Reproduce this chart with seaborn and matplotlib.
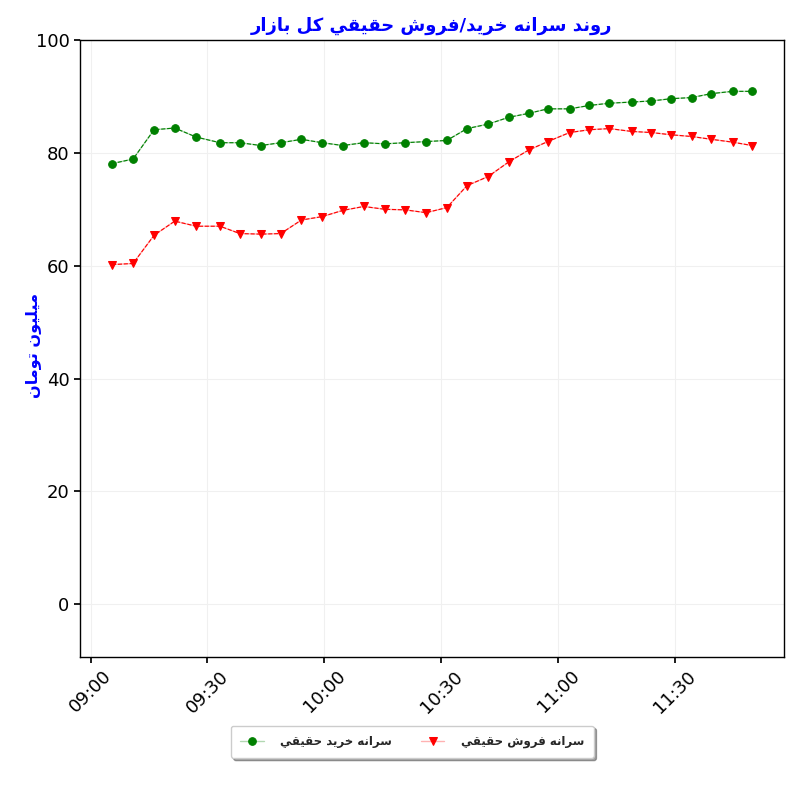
import numpy as np
import pandas as pd
import matplotlib
matplotlib.use("Agg")
import matplotlib.pyplot as plt
import matplotlib.dates as mdates
import seaborn as sns

# ---------------- data ----------------
times = ["09:05:30", "09:10:54", "09:16:18", "09:21:36", "09:27:06", "09:33:12",
         "09:38:18", "09:43:42", "09:48:48", "09:54:06", "09:59:24", "10:04:42",
         "10:10:06", "10:15:30", "10:20:42", "10:26:06", "10:31:24", "10:36:36",
         "10:42:00", "10:47:18", "10:52:24", "10:57:18", "11:02:54", "11:08:00",
         "11:13:06", "11:18:48", "11:23:54", "11:29:00", "11:34:12", "11:39:18",
         "11:44:42", "11:49:42"]
buy_per_capita = [78.1, 78.9, 84.1, 84.4, 82.8, 81.8, 81.8, 81.3, 81.8, 82.4,
                  81.8, 81.3, 81.8, 81.6, 81.8, 82.0, 82.2, 84.3, 85.1, 86.3,
                  87.0, 87.8, 87.8, 88.4, 88.8, 89.0, 89.2, 89.6, 89.8, 90.5,
                  90.9, 90.9]
sell_per_capita = [60.2, 60.4, 65.4, 67.9, 67.0, 67.0, 65.7, 65.6, 65.7, 68.1,
                   68.7, 69.8, 70.5, 70.0, 69.9, 69.4, 70.3, 74.2, 75.8, 78.4,
                   80.5, 82.0, 83.6, 84.1, 84.3, 83.8, 83.6, 83.2, 82.9, 82.4,
                   81.9, 81.3]
title_text = "روند سرانه خريد/فروش حقيقي کل بازار"
ylabel_text = "ميليون تومان"
label_buy = "سرانه خريد حقيقي"
label_sell = "سرانه فروش حقيقي"

# ------------- minimal Arabic shaping (presentation forms, visual order) -------------
FORMS = {  # isolated, final, initial, medial
    "ا": ("\uFE8D", "\uFE8E", None, None),
    "ب": ("\uFE8F", "\uFE90", "\uFE91", "\uFE92"),
    "ت": ("\uFE95", "\uFE96", "\uFE97", "\uFE98"),
    "ح": ("\uFEA1", "\uFEA2", "\uFEA3", "\uFEA4"),
    "خ": ("\uFEA5", "\uFEA6", "\uFEA7", "\uFEA8"),
    "د": ("\uFEA9", "\uFEAA", None, None),
    "ر": ("\uFEAD", "\uFEAE", None, None),
    "ز": ("\uFEAF", "\uFEB0", None, None),
    "س": ("\uFEB1", "\uFEB2", "\uFEB3", "\uFEB4"),
    "ش": ("\uFEB5", "\uFEB6", "\uFEB7", "\uFEB8"),
    "ف": ("\uFED1", "\uFED2", "\uFED3", "\uFED4"),
    "ق": ("\uFED5", "\uFED6", "\uFED7", "\uFED8"),
    "ک": ("\uFB8E", "\uFB8F", "\uFB90", "\uFB91"),
    "ل": ("\uFEDD", "\uFEDE", "\uFEDF", "\uFEE0"),
    "م": ("\uFEE1", "\uFEE2", "\uFEE3", "\uFEE4"),
    "ن": ("\uFEE5", "\uFEE6", "\uFEE7", "\uFEE8"),
    "ه": ("\uFEE9", "\uFEEA", "\uFEEB", "\uFEEC"),
    "و": ("\uFEED", "\uFEEE", None, None),
    "ي": ("\uFEF1", "\uFEF2", "\uFEF3", "\uFEF4"),
}


def shape(text):
    out = []
    n = len(text)
    for i, ch in enumerate(text):
        if ch not in FORMS:
            out.append(ch)
            continue
        f = FORMS[ch]
        prev = text[i - 1] if i > 0 else None
        nxt = text[i + 1] if i < n - 1 else None
        join_prev = prev in FORMS and FORMS[prev][2] is not None
        join_next = f[2] is not None and nxt in FORMS
        if join_prev and join_next:
            out.append(f[3])
        elif join_prev:
            out.append(f[1])
        elif join_next:
            out.append(f[2])
        else:
            out.append(f[0])
    return "".join(out)[::-1]


# ---------------- frame ----------------
t = pd.to_datetime(["2024-01-01 " + s for s in times])
df = pd.DataFrame({"time": list(t) * 2,
                   "value": buy_per_capita + sell_per_capita,
                   "series": [label_buy] * len(t) + [label_sell] * len(t)})

sns.set_theme(style="white")
plt.rcParams["font.family"] = ["DejaVu Sans"]

fig = plt.figure(figsize=(8, 8), dpi=100)
ax = fig.add_axes([0.1, 0.179, 0.88, 0.771])

colors = {label_buy: "green", label_sell: "red"}
markers = {label_buy: "o", label_sell: "v"}
for lab in [label_buy, label_sell]:
    sub = df[df["series"] == lab]
    c = matplotlib.colors.to_rgba(colors[lab])
    # faint solid line with markers (legend entry)
    sns.lineplot(data=sub, x="time", y="value", ax=ax, color=(c[0], c[1], c[2], 0.3),
                 linewidth=1.0, marker=markers[lab], markersize=5.5,
                 markerfacecolor=colors[lab], markeredgecolor=colors[lab],
                 label=shape(lab))
    # thin dashed overlay
    sns.lineplot(data=sub, x="time", y="value", ax=ax, color=colors[lab],
                 linewidth=0.8, linestyle="--", legend=False)

ax.set_ylim(-9.3, 100)
ax.xaxis.set_major_locator(mdates.MinuteLocator(byminute=[0, 30]))
ax.xaxis.set_major_formatter(mdates.DateFormatter("%H:%M"))
for lbl in ax.get_xticklabels():
    lbl.set_rotation(45)
ax.tick_params(axis="both", labelsize=13, length=4, color="black", labelcolor="black",
               bottom=True, left=True)
ax.grid(True, color="#f0f0f0", linewidth=0.8)
for s in ax.spines.values():
    s.set_color("black")
    s.set_linewidth(1.0)

ax.set_xlabel("")
ax.set_ylabel(shape(ylabel_text), color="blue", fontsize=11.5, fontweight="bold")
ax.yaxis.set_label_coords(-0.056, 0.504)
ax.set_title(shape(title_text), color="blue", fontsize=13, fontweight="bold", pad=7)

leg = ax.legend(loc="upper center", bbox_to_anchor=(0.472, -0.102), ncol=2,
                frameon=True, shadow=True, fancybox=True,
                prop={"weight": "bold", "size": 8.5}, columnspacing=2.4,
                handlelength=2.0, handletextpad=1.4, borderpad=0.8)
leg.get_frame().set_edgecolor("#cccccc")

fig.savefig("out.png", dpi=100)
